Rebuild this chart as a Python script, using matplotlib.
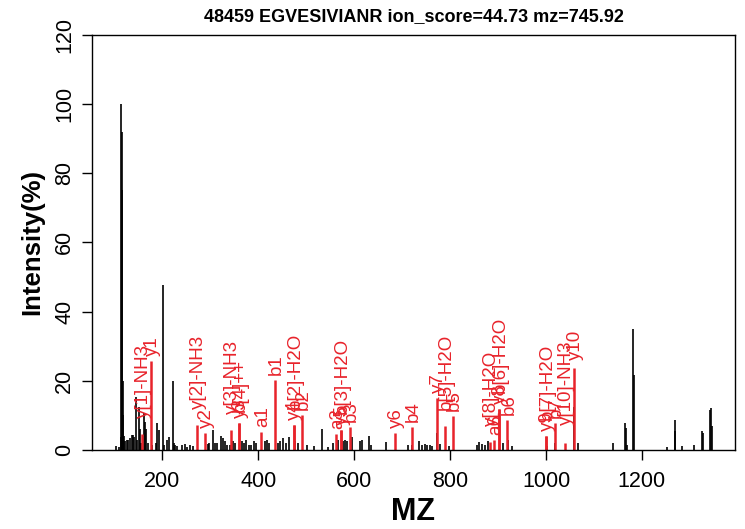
import matplotlib
matplotlib.use("Agg")
import matplotlib.pyplot as plt
from matplotlib.font_manager import FontProperties
from matplotlib.textpath import TextPath

plt.rcParams["font.family"] = ["Liberation Sans", "DejaVu Sans"]

title = "48459 EGVESIVIANR ion_score=44.73 mz=745.92"

# all observed peaks (black)
peak_mz = [102.5, 110.1, 113.1, 114.1, 115.1, 116.1, 117.1, 118.1, 119.1, 121.1,
           125.5, 129.1, 132.4, 136.1, 139.0, 141.1, 145.6, 147.1, 151.5, 153.1,
           155.1, 162.0, 164.1, 166.1, 169.1, 178.1, 186.1, 188.5, 193.4, 202.0,
           204.1, 210.0, 214.5, 221.0, 223.1, 226.1, 230.1, 240.1, 246.1, 252.1,
           258.1, 263.1, 294.0, 298.0, 305.0, 309.0, 313.0, 322.0, 326.0, 330.0,
           334.0, 340.0, 348.0, 351.0, 365.0, 370.0, 375.0, 380.0, 385.0, 390.0,
           396.0, 413.0, 418.0, 422.0, 440.0, 446.0, 452.0, 458.0, 463.0, 477.0,
           482.0, 501.0, 515.0, 533.5, 545.0, 555.0, 567.0, 576.0, 580.0, 584.0,
           596.0, 613.0, 617.0, 631.5, 634.0, 666.0, 712.0, 721.0, 735.0, 742.0,
           747.0, 752.0, 757.0, 762.0, 773.5, 778.0, 798.0, 856.0, 860.0, 866.0,
           873.0, 878.0, 909.6, 920.5, 928.0, 1002.0, 1019.6, 1058.6, 1066.0, 1140.0,
           1165.0, 1167.0, 1169.0, 1182.0, 1184.0, 1252.0, 1268.0, 1270.0, 1283.0, 1309.0,
           1325.0, 1327.0, 1342.0, 1344.0, 1346.0]
peak_int = [1.2, 1.0, 3.8, 100.0, 92.0, 75.0, 20.0, 10.0, 4.0, 2.5,
            2.9, 3.0, 3.4, 4.3, 4.3, 3.9, 15.4, 3.0, 12.5, 6.0,
            2.0, 10.6, 8.2, 6.0, 2.0, 1.5, 2.0, 7.8, 5.8, 47.8,
            1.5, 2.9, 3.7, 19.9, 2.0, 1.5, 1.2, 1.5, 1.8, 1.0,
            1.5, 1.2, 1.6, 2.0, 5.8, 2.0, 2.0, 4.0, 3.5, 2.5,
            1.5, 1.5, 2.5, 2.0, 2.5, 2.0, 3.0, 1.5, 1.5, 2.5,
            2.0, 2.5, 3.0, 2.0, 2.0, 2.5, 3.5, 2.0, 3.8, 2.5,
            2.0, 1.5, 1.2, 6.2, 1.0, 2.0, 3.0, 2.5, 3.0, 2.5,
            3.7, 2.5, 2.8, 4.0, 1.5, 2.4, 1.5, 1.5, 2.7, 1.5,
            1.8, 1.5, 1.5, 1.2, 4.8, 1.6, 1.2, 1.5, 2.2, 1.8,
            1.5, 2.5, 1.9, 3.0, 1.2, 1.2, 2.0, 12.5, 1.9, 1.9,
            7.7, 6.3, 1.5, 35.1, 21.6, 1.0, 8.8, 5.5, 1.2, 1.5,
            5.5, 5.0, 11.7, 12.0, 7.0]

# matched fragment ions (red)
ion_labels = ["y[1]-NH3", "y1", "y[2]-NH3", "y2", "y[3]-NH3", "y3", "b[4]++", "a1",
              "b1", "y4", "b[2]-H2O", "b2", "a3", "y5", "b[3]-H2O", "b3", "y6", "b4",
              "y7", "b[5]-H2O", "b5", "y[8]-H2O", "a6", "y8", "b[6]-H2O", "b6",
              "y9", "b[7]-H2O", "b7", "y[10]-NH3", "y10"]
ion_mz = [158.09, 175.12, 272.14, 289.16, 343.17, 360.20, 360.20, 406.26,
          434.26, 473.28, 473.27, 491.28, 562.35, 572.35, 572.33, 590.35, 685.44, 719.39,
          772.47, 788.41, 806.42, 883.50, 891.51, 901.51, 901.49, 919.50,
          1000.58, 1000.56, 1018.57, 1040.57, 1057.60]
ion_int = [4.5, 25.7, 7.3, 5.0, 5.8, 7.7, 7.7, 5.1,
           20.3, 7.2, 7.2, 10.1, 4.6, 5.8, 5.8, 6.7, 5.0, 6.7,
           14.9, 6.9, 9.8, 2.4, 2.9, 11.8, 11.8, 8.7,
           4.0, 4.0, 7.9, 1.9, 23.8]

red = "#e8232b"
label_size = 13.5

fig = plt.figure(figsize=(7.45, 5.29), dpi=100)
ax = fig.add_axes([0.1235, 0.1493, 0.863, 0.785])

ax.vlines(peak_mz, 0, peak_int, color="black", linewidth=1.2)
ax.vlines(ion_mz, 0, ion_int, color=red, linewidth=1.8)

# labels start a bit above the peak, longer labels sit higher (like R adj < 0)
fp = FontProperties(family="Liberation Sans", size=label_size)
for lab, mz, inten in zip(ion_labels, ion_mz, ion_int):
    length = TextPath((0, 0), lab, prop=fp).get_extents().width
    ax.annotate(lab, (mz, inten), xytext=(1, 1 + 0.2 * length), textcoords="offset points",
                rotation=90, ha="center", va="bottom", color=red, fontsize=label_size)

ax.set_xlim(53, 1394)
ax.set_ylim(0, 120)
ax.set_xticks([200, 400, 600, 800, 1000, 1200])
ax.set_yticks([0, 20, 40, 60, 80, 100, 120])
ax.tick_params(axis="both", direction="out", length=7, width=1, labelsize=15.5, pad=8)
ax.tick_params(axis="y", labelrotation=90, pad=5)
for t in ax.get_yticklabels():
    t.set_va("center")
for s in ax.spines.values():
    s.set_linewidth(1.0)

ax.set_xlabel("MZ", fontsize=22, fontweight="bold", labelpad=4)
ax.set_ylabel("Intensity(%)", fontsize=18.5, fontweight="bold", labelpad=7)
ax.set_title(title, fontsize=13, fontweight="bold", pad=10)

fig.savefig("out.png", dpi=100)
